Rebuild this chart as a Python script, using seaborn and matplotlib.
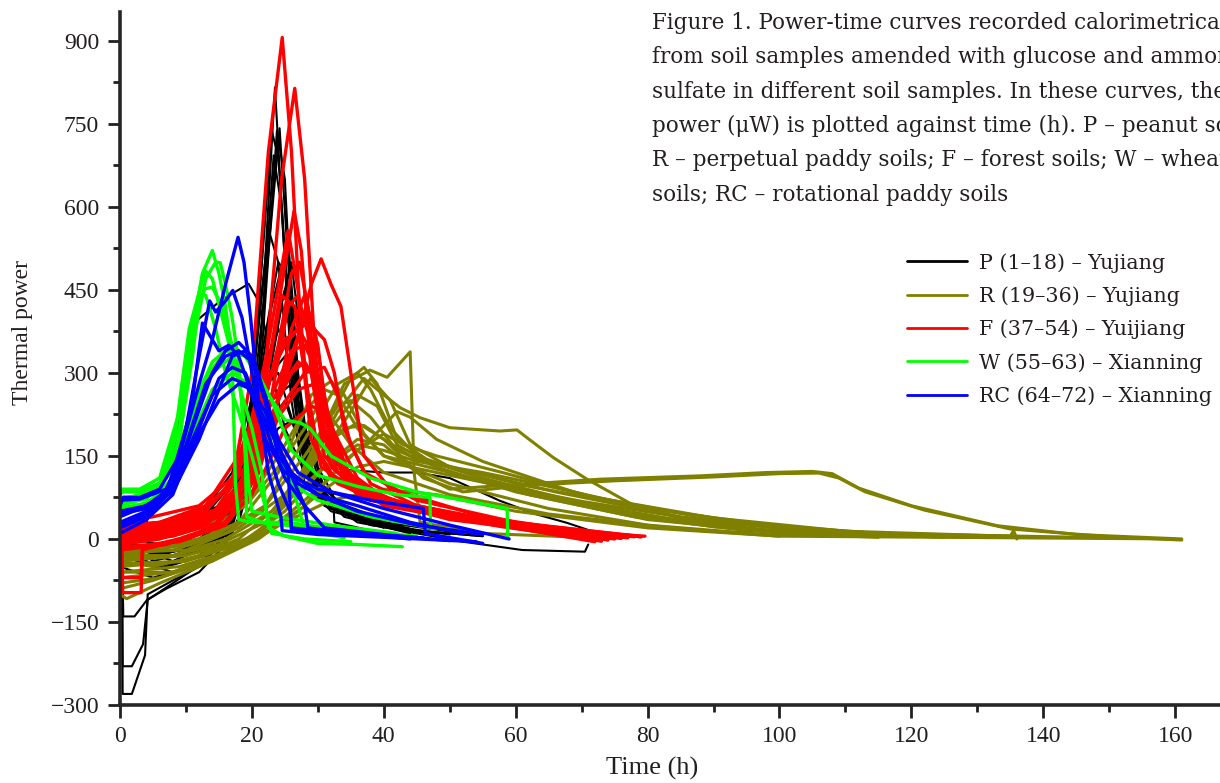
import numpy as np
import pandas as pd
import seaborn as sns
import matplotlib.pyplot as plt
from matplotlib.lines import Line2D

# power-time curves (time h, thermal power uW)
p_curves = [
    ([0.3, 0.4, 1.8, 3.8, 4.2, 8, 12, 16, 19, 22, 23.5, 25, 27, 30, 35, 45, 55],
     [-20, -280, -280, -210, -100, -75, -50, 0, 150, 500, 816, 500, 200, 80, 40, 15, 5]),
    ([0.3, 0.4, 1.8, 3.5, 4.2, 8, 13, 17, 20, 23, 24, 26, 28, 32, 40, 50],
     [-20, -230, -230, -190, -110, -80, -40, 30, 250, 738, 690, 350, 150, 60, 25, 8]),
    ([0.3, 0.5, 2.2, 4.1, 7, 12, 16, 19, 22, 24.2, 25.5, 27, 29, 32, 40, 52],
     [-10, -140, -140, -110, -90, -60, -10, 120, 450, 742, 500, 250, 120, 70, 30, 10]),
    ([0, 3, 10, 15, 18, 21, 23.3, 24.5, 26, 28, 31, 38, 48],
     [10, -30, -20, 10, 80, 300, 693, 600, 300, 130, 60, 25, 8]),
    ([0, 5, 12, 16, 19, 22.5, 24, 26, 28, 32, 42],
     [5, -40, -20, 20, 150, 560, 500, 250, 100, 50, 20]),
    ([0, 6, 12, 17, 20, 23, 25.5, 27, 29, 33, 45],
     [0, -30, -10, 60, 200, 420, 540, 300, 120, 50, 15]),
    ([0, 8, 14, 18, 21, 24, 26, 27.5, 30, 32.3, 32.5, 40],
     [-5, -40, -10, 80, 250, 400, 500, 350, 130, 80, 30, 10]),
    ([0, 4, 8, 11.6, 15.2, 19.5, 21, 22, 23, 25, 28, 32, 40, 50],
     [0, 30, 150, 394, 430, 461, 430, 380, 300, 200, 120, 70, 35, 15]),
    ([0, 7, 13, 17, 20, 23, 25, 26.5, 28, 31, 40],
     [-10, -50, -30, 20, 150, 350, 450, 300, 150, 60, 20]),
    ([0, 5, 12, 17, 21, 24, 25.5, 27, 30, 35, 45],
     [0, -20, 10, 80, 250, 380, 330, 200, 90, 40, 12]),
    ([0, 6, 12, 17, 20, 23, 25, 27, 30, 34, 45],
     [-20, -50, -30, 30, 130, 300, 330, 250, 110, 50, 15]),
    ([0, 5, 12, 17, 20, 22, 24, 26, 29, 34, 44],
     [10, 0, 30, 100, 200, 280, 300, 220, 100, 40, 10]),
    ([0, 8, 14, 18, 22, 25, 27, 30, 36, 45],
     [-30, -60, -40, 30, 200, 250, 180, 80, 30, 10]),
    ([0, 8, 15, 20, 24, 27, 30, 34, 40, 45, 50, 57.6, 63, 67.8, 72.8],
     [0, 20, 60, 120, 200, 220, 160, 125, 120, 120, 110, 69, 45, 29, 9]),
    ([0, 8, 15, 19, 22, 24.5, 26, 28, 31, 36, 45, 52, 61, 70.5, 71],
     [-10, -30, 0, 80, 250, 420, 380, 200, 90, 40, 10, -5, -20, -23, -10]),
    ([0, 6, 12, 17, 21, 23.8, 25, 26.5, 28.5, 32, 42, 55],
     [5, -10, 0, 50, 250, 738, 650, 300, 120, 55, 18, 5]),
    ([0, 5, 12, 17, 20, 23, 26, 28, 31, 36, 48],
     [-50, -70, -45, 10, 100, 250, 280, 200, 90, 35, 8]),
    ([0, 6, 12, 17, 21, 24, 25.2, 26.5, 28, 30, 35, 46],
     [15, 10, 40, 120, 300, 500, 480, 350, 180, 90, 40, 12]),
]

r_curves = [
    ([0, 5, 12, 20, 25, 30, 34, 37.9, 40.5, 44, 44.6, 45.5, 55, 70],
     [-40, -50, -30, 0, 60, 180, 280, 305, 292, 338, 120, 30, 10, 3]),
    ([0, 8, 15, 22, 28, 33, 37, 40, 42.5, 45.5, 50, 57.6, 60.2, 61.7, 65.7, 70.8, 78, 88, 100, 115],
     [-60, -60, -30, 20, 120, 230, 290, 260, 237, 219, 201, 195, 197, 183, 147, 108, 60, 28, 10, 3]),
    ([0, 8, 15, 22, 30, 36, 40, 45, 50, 56, 62.6, 72.8, 88, 98, 105, 108, 112, 120, 133, 145, 161],
     [-30, -30, -10, 30, 120, 180, 170, 120, 90, 95, 100, 108, 114, 120, 122, 118, 92, 60, 24, 8, 0]),
    ([0, 10, 18, 26, 32, 36, 40, 46, 52, 62, 75, 90, 100, 106, 109, 113, 122, 135, 150, 161],
     [-45, -40, 0, 80, 180, 210, 180, 110, 85, 97, 105, 112, 118, 119, 110, 85, 52, 18, 4, -2]),
    ([0, 8, 16, 22, 28, 33, 36, 38, 41, 45, 55, 70, 85, 100, 112, 120],
     [-20, -20, 10, 60, 180, 280, 300, 270, 200, 150, 110, 65, 33, 14, 8, 5]),
    ([0, 1, 6, 14, 20, 26, 31, 35, 37, 39, 42, 47, 60, 75, 90, 105, 125, 135],
     [-100, -108, -80, -40, 0, 80, 200, 290, 310, 280, 180, 140, 90, 50, 22, 10, 4, 3]),
    ([0, 8, 15, 21, 27, 32, 36, 39, 42, 48, 60, 80, 100, 135, 135.5, 136],
     [-70, -60, -30, 10, 100, 200, 260, 240, 170, 130, 85, 35, 12, 5, 15, 0]),
    ([0, 6, 14, 20, 24, 28, 31, 33, 36, 40, 50, 65, 80, 100],
     [-10, 0, 30, 80, 150, 230, 270, 260, 200, 150, 100, 55, 25, 6]),
    ([0, 10, 18, 24, 29, 32, 34, 37, 40, 50, 60, 75, 95, 110],
     [-30, -10, 30, 120, 260, 285, 260, 190, 150, 120, 90, 50, 18, 6]),
    ([0, 6, 14, 21, 28, 34, 38, 42, 44, 48, 55, 70, 90, 110, 130],
     [-80, -70, -40, 0, 60, 140, 180, 230, 220, 180, 140, 80, 35, 12, 3]),
    ([0, 10, 18, 25, 31, 36, 40, 45, 55, 65, 80, 100, 120],
     [-50, -40, -10, 50, 130, 170, 160, 140, 120, 95, 55, 22, 6]),
    ([0, 7, 15, 22, 28, 33, 35, 38, 42, 50, 62, 78, 95, 115],
     [-20, -15, 10, 60, 150, 240, 250, 220, 160, 120, 80, 40, 15, 4]),
    ([0, 5, 12, 19, 25, 31, 36, 40, 46, 56, 70, 90, 110, 125],
     [-90, -75, -45, -10, 30, 90, 130, 140, 125, 100, 68, 30, 10, 3]),
    ([0, 8, 16, 23, 29, 34, 37, 40, 44, 52, 66, 85, 105, 125],
     [-35, -30, 0, 50, 140, 200, 205, 180, 150, 125, 85, 40, 12, 4]),
    ([0, 9, 17, 23, 30, 36, 40, 43, 48, 58, 72, 90, 110, 140],
     [-60, -50, -20, 20, 90, 160, 190, 170, 150, 120, 75, 38, 14, 3]),
    ([0, 6, 13, 19, 24, 28, 30, 32, 35, 40, 50, 65, 85, 100],
     [-15, -10, 15, 60, 130, 200, 240, 220, 170, 120, 80, 45, 18, 5]),
    ([0, 10, 18, 25, 32, 40, 48, 60, 80, 100, 160],
     [-40, -30, -5, 30, 70, 90, 80, 50, 20, 5, 0]),
    ([0, 10, 18, 25, 31, 35, 38, 41, 44, 50, 62, 78, 95, 115, 150],
     [-25, -20, 20, 80, 160, 230, 290, 250, 170, 130, 95, 60, 28, 10, 2]),
]

f_curves = [
    ([0, 5, 12, 17, 20, 22.5, 24.6, 26, 27.5, 29, 32, 38, 50, 65, 79.6],
     [10, 20, 40, 100, 300, 700, 906, 700, 350, 180, 110, 70, 40, 15, 5]),
    ([0, 6, 13, 18, 22, 24.5, 26.5, 28, 29.5, 31, 35, 45, 60, 75],
     [0, 10, 30, 80, 300, 650, 814, 650, 350, 180, 100, 55, 25, 3]),
    ([0, 7, 14, 19, 23, 26.4, 27.5, 29, 31, 36, 50, 72],
     [-20, -10, 20, 100, 350, 593, 520, 300, 150, 80, 40, -5]),
    ([0, 6, 13, 18, 22, 25.5, 27, 28.5, 30.5, 38, 55, 78],
     [15, 25, 50, 120, 320, 557, 450, 250, 130, 70, 30, 4]),
    ([0, 8, 15, 20, 24, 27, 29, 30.5, 32, 33.5, 35, 37, 41, 55, 76],
     [5, 15, 50, 120, 250, 360, 460, 506, 460, 420, 300, 150, 90, 40, 2]),
    ([0.3, 0.4, 3.2, 3.4, 8, 15, 20, 23, 26, 28, 30, 32, 36, 50, 74],
     [-30, -97, -97, -20, -5, 20, 80, 200, 380, 440, 350, 160, 80, 35, 0]),
    ([0.3, 0.4, 3.2, 3.4, 9, 16, 21, 25, 28, 29.5, 31, 33, 38, 55, 77],
     [-20, -70, -70, -15, 0, 30, 120, 300, 400, 380, 260, 140, 75, 30, 3]),
    ([0, 6, 13, 18, 22, 25, 27, 29, 31, 34, 40, 60, 79],
     [20, 30, 60, 150, 280, 350, 380, 340, 220, 120, 70, 25, 4]),
    ([0, 7, 14, 19, 23, 27, 29, 31, 34, 40, 58, 73],
     [0, 5, 35, 110, 250, 320, 300, 200, 110, 60, 22, -3]),
    ([0, 5, 12, 17, 21, 25, 28.5, 31, 32.5, 34, 37, 45, 60, 78],
     [30, 40, 60, 110, 230, 360, 391, 360, 300, 200, 120, 70, 30, 5]),
    ([0, 6, 13, 18, 22, 26, 28, 30, 32, 35, 42, 58, 75],
     [-10, 0, 25, 80, 200, 300, 320, 280, 180, 100, 60, 25, 0]),
    ([0, 7, 14, 19, 22, 24.5, 26.5, 28, 30, 33, 40, 60, 77],
     [10, 20, 45, 130, 280, 440, 420, 300, 160, 100, 65, 25, 2]),
    ([0, 8, 15, 20, 24, 28, 31, 33, 35, 38, 45, 62, 74],
     [0, 10, 40, 110, 230, 300, 310, 260, 170, 100, 60, 22, -2]),
    ([0, 6, 12, 17, 21, 24, 26, 27.2, 28.5, 30, 32, 37, 55, 78],
     [25, 30, 50, 100, 200, 350, 480, 500, 420, 250, 130, 80, 35, 6]),
    ([0, 8, 15, 20, 24, 27, 29.5, 31.5, 34, 38, 50, 72],
     [-5, 5, 30, 100, 220, 270, 280, 230, 130, 80, 40, -3]),
    ([0, 7, 14, 19, 23, 26, 28, 30, 32, 35, 42, 60, 76],
     [5, 15, 40, 110, 260, 340, 350, 300, 200, 110, 65, 22, 1]),
    ([0, 9, 16, 21, 25, 29, 31, 33, 36, 40, 55, 73],
     [-15, -5, 25, 100, 200, 240, 230, 180, 110, 75, 30, -4]),
    ([0, 8, 15, 20, 23, 25.5, 27, 28.5, 30, 33, 39, 58, 79],
     [15, 25, 55, 130, 260, 420, 440, 370, 230, 120, 75, 28, 4]),
]

w_curves = [
    ([0, 0.5, 3, 6, 9, 11, 12.5, 14, 15, 16, 17, 17.5, 18, 20, 25.8, 28, 35, 45],
     [80, 87, 88, 100, 200, 380, 480, 521, 480, 420, 330, 100, 35, 30, 30, 25, 15, 5]),
    ([0, 3, 6, 9, 11, 13, 14.5, 15.2, 16, 17, 18, 19, 19.2, 22, 30, 40],
     [70, 80, 95, 180, 350, 470, 500, 499, 460, 400, 320, 150, 40, 28, 20, 8]),
    ([0, 3, 6, 8.5, 10.5, 12.9, 14, 15.5, 17, 18.5, 20, 21.5, 22.5, 25, 30, 36, 42.8],
     [85, 85, 95, 200, 380, 485, 470, 400, 330, 260, 200, 120, 20, 5, -8, -10, -14]),
    ([0, 3, 6, 9, 11, 12.1, 13, 14.5, 16, 18, 20, 22, 23, 28, 35],
     [60, 70, 90, 180, 330, 440, 440, 380, 300, 230, 150, 60, 10, 0, -5]),
    ([0, 3, 7, 10, 13, 16, 19, 22, 25, 27.3, 28.8, 32, 38, 45, 52, 58.7, 58.8],
     [75, 78, 110, 200, 290, 340, 330, 270, 215, 210, 200, 150, 110, 85, 70, 55, 3]),
    ([0, 4, 8, 11, 14, 17, 20, 23, 26, 30, 36, 42, 47, 47.1, 50],
     [65, 72, 130, 240, 320, 350, 320, 250, 160, 115, 95, 80, 75, 20, 18]),
    ([0, 4, 8, 11, 14, 17, 19, 21, 23, 26, 30, 38, 48],
     [50, 60, 110, 220, 300, 330, 300, 240, 170, 100, 70, 40, 18]),
    ([0, 3, 6, 9, 11, 12.9, 14, 15.5, 17, 18.5, 19.5, 20, 24, 32, 42],
     [90, 90, 110, 230, 400, 452, 455, 420, 350, 250, 100, 50, 40, 25, 10]),
    ([0, 4, 8, 11, 14, 17, 19.5, 22, 25, 27, 28, 34],
     [55, 65, 100, 190, 270, 300, 280, 220, 130, 60, 15, 2]),
]

rc_curves = [
    ([0, 0.5, 3, 6, 9, 12, 14, 16, 17.9, 18.8, 19.8, 21, 22.5, 24.4, 24.6, 30, 40, 54],
     [60, 75, 75, 90, 150, 280, 360, 460, 545, 500, 400, 250, 120, 40, 15, 8, 3, -5]),
    ([0, 3, 7, 10, 12, 13.6, 14.5, 16, 17.1, 18.5, 20, 22, 24, 25.8, 26, 35, 46],
     [40, 55, 80, 200, 330, 430, 410, 430, 449, 400, 300, 180, 100, 50, 15, 8, 2]),
    ([0, 4, 8, 11, 12.5, 13.5, 15, 16.5, 18, 20, 22, 25, 30, 38, 46, 46.3, 55],
     [30, 50, 100, 250, 390, 370, 340, 350, 330, 260, 180, 120, 90, 70, 55, 10, -8]),
    ([0, 4, 8, 11, 14, 16, 18, 20, 22, 24, 27, 32, 40, 50, 59],
     [20, 40, 90, 200, 300, 340, 355, 330, 260, 180, 120, 85, 55, 25, 0]),
    ([0, 3, 7, 10, 13, 16, 18, 20, 22, 24, 27, 30, 36, 44, 52],
     [70, 72, 90, 170, 280, 330, 340, 320, 250, 150, 100, 80, 60, 30, 10]),
    ([0, 4, 8, 12, 15, 17, 19, 21, 23, 25, 28, 28.5, 35, 44],
     [10, 35, 80, 200, 290, 310, 300, 240, 170, 110, 60, 20, 10, 0]),
    ([0, 4, 8, 11, 14, 17, 19, 21, 23, 26, 30, 36, 45, 55],
     [50, 60, 95, 180, 260, 290, 280, 240, 190, 120, 80, 50, 25, 8]),
    ([0, 4, 9, 12, 15, 18, 20, 22, 25, 28, 31, 40, 50],
     [25, 45, 110, 190, 250, 280, 270, 230, 140, 60, 20, 8, -3]),
    ([0, 4, 8, 12, 15, 17, 19, 21, 23, 25.5, 26, 32, 42],
     [45, 55, 85, 180, 270, 330, 340, 300, 200, 120, 20, 12, 5]),
]

groups = ["P (1–18) – Yujiang", "R (19–36) – Yujiang", "F (37–54) – Yuijiang",
          "W (55–63) – Xianning", "RC (64–72) – Xianning"]
colors = ["#000000", "#808000", "#ff0000", "#00ff00", "#0000ff"]
widths = [1.5, 2.2, 2.4, 2.4, 2.4]
all_curves = [p_curves, r_curves, f_curves, w_curves, rc_curves]

caption_lines = [
    "Figure 1. Power-time curves recorded calorimetrically",
    "from soil samples amended with glucose and ammonium",
    "sulfate in different soil samples. In these curves, thermal",
    "power (\u03bcW) is plotted against time (h). P \u2013 peanut soils;",
    "R \u2013 perpetual paddy soils; F \u2013 forest soils; W \u2013 wheat",
    "soils; RC \u2013 rotational paddy soils",
]

rows = []
n = 0
for g, curves in zip(groups, all_curves):
    for t, p in curves:
        n += 1
        for ti, pi in zip(t, p):
            rows.append((g, n, ti, pi))
df = pd.DataFrame(rows, columns=["group", "sample", "time", "power"])

sns.set_style("ticks")
plt.rcParams['font.family'] = ['Liberation Serif', 'DejaVu Serif']
txt = "#231f20"
wide = ['DejaVu Serif', 'Liberation Serif']

fig = plt.figure(figsize=(12.2, 7.83), dpi=100)
ax = fig.add_axes([120 / 1220, 78 / 783, 1100 / 1220, 693 / 783])

for g, c, w in zip(groups, colors, widths):
    sns.lineplot(data=df[df["group"] == g], x="time", y="power", units="sample",
                 estimator=None, sort=False, color=c, lw=w, legend=False, ax=ax)

ax.set_xlim(0, 166.8)
ax.set_ylim(-300, 952)
ax.set_xticks(np.arange(0, 161, 20))
ax.set_xticks(np.arange(10, 161, 20), minor=True)
ax.set_yticks(np.arange(-300, 901, 150))
ax.set_yticks(np.arange(-225, 901, 150), minor=True)
ax.set_yticklabels([str(v).replace("-", "\u2212") for v in range(-300, 901, 150)])
sns.despine(ax=ax)
for s in ["left", "bottom"]:
    ax.spines[s].set_linewidth(2.6)
ax.tick_params(which="major", length=9, width=2, labelsize=17, colors=txt, pad=6)
ax.tick_params(which="minor", length=5, width=2, colors=txt)
ax.set_xlabel("Time (h)", fontsize=19, color=txt)
ax.xaxis.set_label_coords((652 - 120) / 1100, -0.075)
ax.set_ylabel("Thermal power", fontsize=17, color=txt)
ax.yaxis.set_label_coords(-(120 - 33) / 1100, (705 - 332) / 693)

handles = [Line2D([], [], color=c, lw=2) for c in colors]
ax.legend(handles, groups, loc="upper left", bbox_to_anchor=(907 / 1220, 1 - 253 / 783),
          bbox_transform=fig.transFigure, frameon=False, handlelength=2.9,
          handletextpad=0.6, labelspacing=0.66, borderpad=0, borderaxespad=0,
          labelcolor=txt, prop={"family": wide, "size": 14.9})

for i, line in enumerate(caption_lines):
    fig.text(652 / 1220, 1 - (29 + 34.3 * i) / 783, line, ha="left", va="baseline",
             fontsize=15.5, family=wide, color=txt)

fig.savefig("out.png", dpi=100)
